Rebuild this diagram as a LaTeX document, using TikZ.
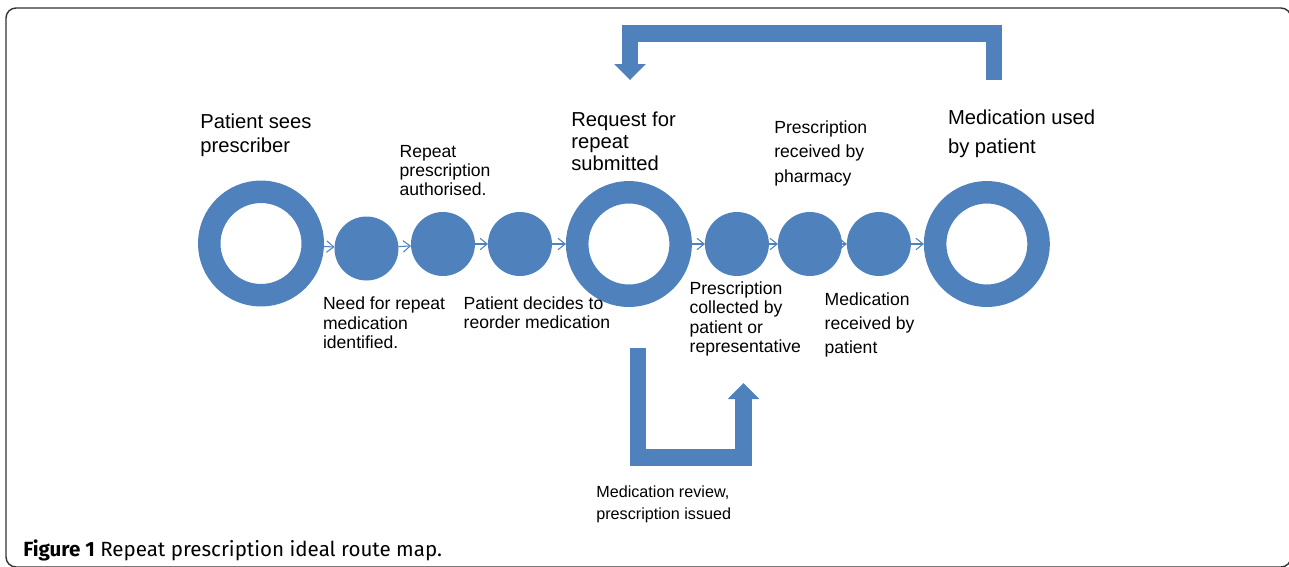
\documentclass[tikz,border=0pt]{standalone}
\usepackage{fontspec}
\setmainfont{Liberation Sans}
\newfontfamily\capfont{Fira Sans}
\usetikzlibrary{arrows.meta,positioning}
\definecolor{chain}{RGB}{79,129,189}
\tikzset{
  ring/.style  = { draw=chain, circle, line width=0.45cm, minimum size=2.07cm, inner sep=0pt, outer sep=0.225cm },
  dot/.style   = { fill=chain, circle, minimum size=1.28cm, inner sep=0pt, outer sep=0pt },
  flow/.style  = { draw=chain, line width=0.6pt, -{Straight Barb[length=4pt,width=6.5pt]} },
  bigarrow/.style = { draw=chain, line width=0.33cm, -{Triangle[width=0.63cm,length=0.32cm,line width=0pt]} },
  lbl/.style   = { align=left, inner sep=0pt, anchor=north west },
  bigtext/.style   = { lbl, font=\fontsize{11.5}{#1}\selectfont },
  smalltext/.style = { lbl, font=\fontsize{10}{#1}\selectfont },
  frame/.style = { draw=black!80, line width=0.8pt, rounded corners=0.2cm }
}
\begin{document}
\begin{tikzpicture}[x=0.02cm,y=-0.02cm,on grid]
      \useasboundingbox (0,0) rectangle (1289,566);
      \draw[frame] (6,8) rectangle (1291,567);
      % route: ring - dots - ring - dots - ring
      \node[ring] (r1) at (261,243.5) {};
      \node[dot, right=2.11cm of r1, yshift=-0.1cm] (s1) {};
      \node[dot, right=1.53cm of s1, yshift=0.09cm] (s2) {};
      \node[dot, right=1.54cm of s2] (s3) {};
      \node[ring, right=2.18cm of s3] (r2) {};
      \node[dot, right=2.16cm of r2] (s4) {};
      \node[dot, right=1.46cm of s4] (s5) {};
      \node[dot, right=1.38cm of s5] (s6) {};
      \node[ring, right=2.16cm of s6] (r3) {};
      \path[flow] (r1) edge (s1);
      \path[flow] (s1) edge (s2);
      \path[flow] (s2) edge (s3);
      \path[flow] (s3) edge (r2);
      \path[flow] (r2) edge (s4);
      \path[flow] (s4) edge (s5);
      \path[flow] (s5) edge (s6);
      \path[flow] (s6) edge (r3);
      % labels
      \node[bigtext=13.3pt] (lseen) at (200,113.7) {Patient sees\\prescriber};
      \node[smalltext=10.8pt] (lauth) at (399.3,144.7) {Repeat\\prescription\\authorised.};
      \node[smalltext=11.1pt] (lneed) at (322.7,296.7) {Need for repeat\\medication\\identified.};
      \node[smalltext=10.8pt] (ldecide) at (463.3,296.7) {Patient decides to\\reorder medication};
      \node[bigtext=12.5pt] (lreq) at (571,111.4) {Request for\\repeat\\submitted};
      \node[smalltext=13.9pt] (lpharm) at (774,120.1) {Prescription\\received by\\pharmacy};
      \node[smalltext=10.9pt] (lcollect) at (689.3,281.7) {Prescription\\collected by\\patient or\\representative};
      \node[smalltext=13.8pt] (lrecv) at (824.3,292.4) {Medication\\received by\\patient};
      \node[bigtext=16.3pt] (lused) at (947.7,109.4) {Medication used\\by patient};
      \node[lbl, font=\fontsize{9.2}{12.35}\selectfont] (lreview) at (596,485.6) {Medication review,\\prescription issued};
      % loops
      \coordinate (backA) at (994,80);
      \coordinate (backB) at (630,80);
      \draw[bigarrow] (backA) -- ++(0,-46.5) -| (backB);
      \coordinate (revA) at (638,348);
      \coordinate (revB) at (743.5,383);
      \draw[bigarrow] (revA) -- ++(0,109.5) -| (revB);
      \node[anchor=base west, inner sep=0pt, font=\capfont\fontsize{11.7}{14}\selectfont] (cap) at (23,556.5) {\textbf{Figure 1} Repeat prescription ideal route map.};
    \end{tikzpicture}
\end{document}
